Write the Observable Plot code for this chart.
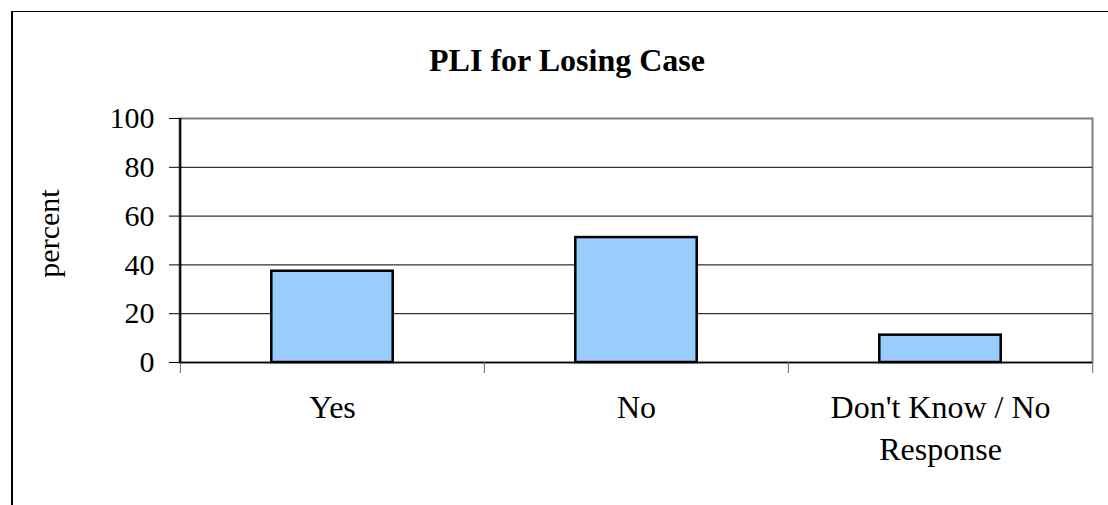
<!DOCTYPE html>
<html><head><meta charset="utf-8">
<script src="https://cdn.jsdelivr.net/npm/d3@7"></script>
<script src="https://cdn.jsdelivr.net/npm/@observablehq/plot@0.6"></script>
<style>
body{margin:0;background:#fff;}
#wrap{position:relative;width:1108px;height:505px;overflow:hidden;font-family:"Liberation Serif","Times New Roman",serif;background:#fff;}
#border{position:absolute;left:11px;top:11px;width:1200px;height:600px;border-left:2px solid #000;border-top:1.5px solid #000;}
#title{position:absolute;left:567px;top:44px;transform:translateX(-50%);font-family:"Liberation Serif","Times New Roman",serif;font-size:32px;font-weight:bold;line-height:32px;white-space:nowrap;color:#000;}
#chart{position:absolute;left:0;top:0;}
</style></head><body>
<div id="wrap"><div id="border"></div><div id="chart"></div><div id="title"></div></div>
<script>
const title = "PLI for Losing Case";
const categories = ["Yes", "No", "Don't Know / No Response"];
const tickLabels = ["Yes", "No", "Don't Know / No\nResponse"];
const values = [37.4, 51.2, 11.2];
const yTicks = [0, 20, 40, 60, 80, 100];
const yLabel = "percent";

const W = 1108, H = 505, mL = 179, mR = 16, mT = 118, mB = 143;
const step = (W - mL - mR) / categories.length;
const barFraction = 0.4;
const inset = step * (1 - barFraction) / 2;
const data = categories.map((c, i) => ({category: c, value: values[i]}));
const font = '"Liberation Serif","Times New Roman",serif';

document.getElementById("title").textContent = title;

const chart = Plot.plot({
  width: W, height: H,
  marginLeft: mL, marginRight: mR, marginTop: mT, marginBottom: mB,
  style: {fontFamily: font, fontSize: "30px", color: "#000", background: "transparent", overflow: "visible"},
  x: {domain: categories, padding: 0, axis: null},
  y: {domain: [0, 100], axis: null},
  marks: [
    Plot.frame({stroke: "#808080", strokeWidth: 2}),
    Plot.gridY(yTicks.slice(1, -1), {stroke: "#000", strokeOpacity: 1, strokeWidth: 1}),
    Plot.barY(data, {x: "category", y: "value", fill: "#99CCFF", stroke: "#000", strokeWidth: 2.5, insetLeft: inset, insetRight: inset}),
    Plot.ruleY([0], {stroke: "#000", strokeWidth: 1.5}),
    Plot.ruleX([categories[0]], {dx: -step / 2, stroke: "#000", strokeWidth: 2}),
    Plot.axisY({ticks: yTicks, tickSize: 10, tickPadding: 15, fontSize: 30, stroke: "#000", label: null}),
    Plot.axisX({ticks: categories, tickSize: 11, dx: -step / 2, tickFormat: () => "", stroke: "#666", label: null}),
    Plot.axisX({ticks: [categories[categories.length - 1]], tickSize: 11, dx: step / 2, tickFormat: () => "", stroke: "#666", label: null}),
    Plot.axisX({ticks: categories, tickSize: 0, tickPadding: 26, fontSize: 32, lineHeight: 1.31,
      tickFormat: d => tickLabels[categories.indexOf(d)], label: null}),
    Plot.text([yLabel], {frameAnchor: "left", textAnchor: "middle", text: d => d, rotate: -90, dx: -130, dy: -7, fontSize: 30, fill: "#000"})
  ]
});
document.getElementById("chart").appendChild(chart);
</script>
</body></html>
